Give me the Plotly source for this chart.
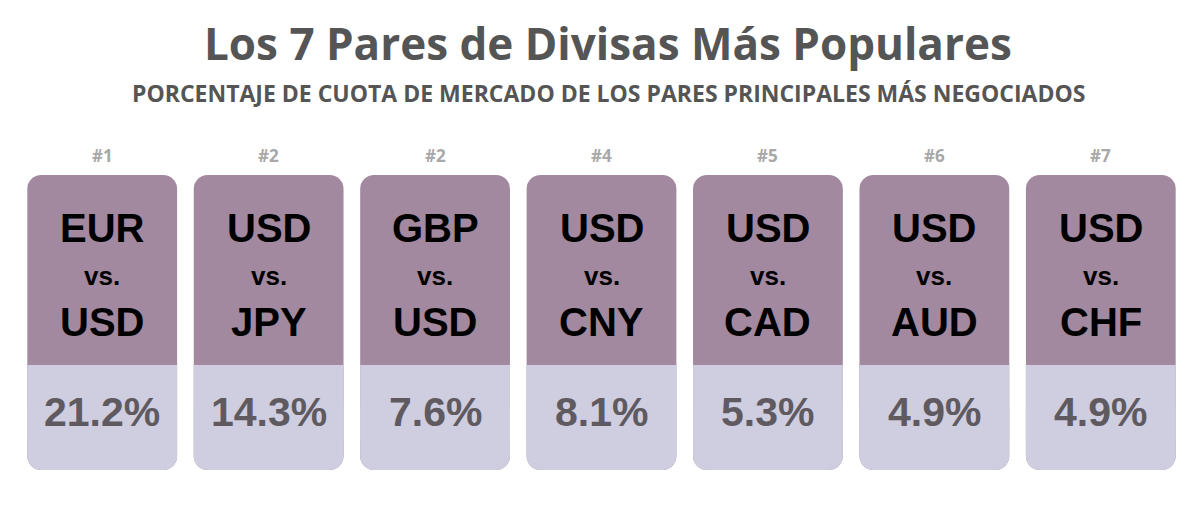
import plotly.graph_objects as go

ranks = ["#1", "#2", "#2", "#4", "#5", "#6", "#7"]
base_ccy = ["EUR", "USD", "GBP", "USD", "USD", "USD", "USD"]
quote_ccy = ["USD", "JPY", "USD", "CNY", "CAD", "AUD", "CHF"]
shares = [21.2, 14.3, 7.6, 8.1, 5.3, 4.9, 4.9]

W, H = 1200, 507
off = 8  # page body margin
top, mid, bottom = 175 - off, 365 - off, 470 - off
xs = list(range(len(ranks)))
n = len(xs)

fig = go.Figure()
fig.add_trace(go.Bar(x=xs, y=[top - bottom] * n, base=[bottom] * n,
                     width=0.9, marker=dict(color="#a2899f", cornerradius=14, line_width=0),
                     hoverinfo="skip"))
fig.add_trace(go.Bar(x=xs, y=[bottom - mid - 30] * n, base=[mid + 30] * n,
                     width=0.9, marker=dict(color="#cfcde0", cornerradius=14, line_width=0),
                     hoverinfo="skip"))
fig.add_trace(go.Bar(x=xs, y=[bottom - mid - 30] * n, base=[mid] * n,
                     width=0.9, marker=dict(color="#cfcde0", line_width=0),
                     hoverinfo="skip"))

card_font = "Liberation Sans"
for i in xs:
    fig.add_annotation(x=i, y=155 - off, text="<b>%s</b>" % ranks[i], showarrow=False,
                       font=dict(family="Open Sans", size=17, color="#a8a8a8"))
    fig.add_annotation(x=i, y=228 - off, text="<b>%s</b>" % base_ccy[i], showarrow=False,
                       font=dict(family=card_font, size=40, color="#000"))
    fig.add_annotation(x=i, y=276 - off, text="<b>vs.</b>", showarrow=False,
                       font=dict(family=card_font, size=26, color="#000"))
    fig.add_annotation(x=i, y=322 - off, text="<b>%s</b>" % quote_ccy[i], showarrow=False,
                       font=dict(family=card_font, size=40, color="#000"))
    fig.add_annotation(x=i, y=412 - off, text="<b>%.1f%%</b>" % shares[i], showarrow=False,
                       font=dict(family=card_font, size=41, color="#5e5a60"))

fig.add_annotation(x=0.5, y=43 - off, xref="paper", text="<b>Los 7 Pares de Divisas Más Populares</b>",
                   showarrow=False, font=dict(family="Open Sans", size=44, color="#555555"))
fig.add_annotation(x=0.5, y=93 - off, xref="paper",
                   text="<b>PORCENTAJE DE CUOTA DE MERCADO DE LOS PARES PRINCIPALES MÁS NEGOCIADOS</b>",
                   showarrow=False, font=dict(family="Open Sans", size=23, color="#555555"))

fig.update_layout(
    width=W, height=H, margin=dict(l=0, r=0, t=0, b=0),
    paper_bgcolor="white", plot_bgcolor="white", showlegend=False, barmode="overlay",
    xaxis=dict(range=[-0.5 - 11 / 166.5, 6.5 + 24 / 166.5], visible=False, fixedrange=True),
    yaxis=dict(range=[H, 0], visible=False, fixedrange=True),
)
fig.write_html("out.html")
